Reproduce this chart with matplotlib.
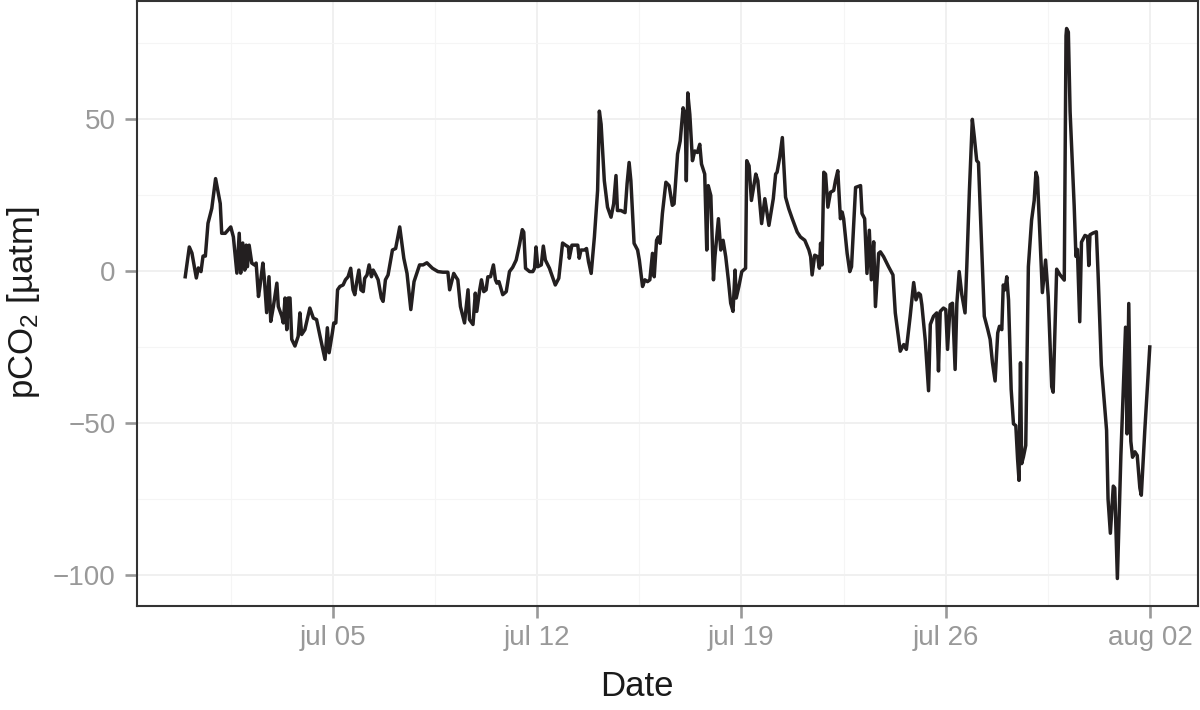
import matplotlib
matplotlib.use("Agg")
import matplotlib.pyplot as plt
import numpy as np
import pandas as pd

plt.rcParams["font.family"] = ["Liberation Sans", "DejaVu Sans"]
plt.rcParams["mathtext.fontset"] = "custom"
plt.rcParams["mathtext.rm"] = "Liberation Sans"
plt.rcParams["mathtext.it"] = "Liberation Sans:italic"

# time of each sample, in days after 1 July 00:00
days = [
    -1.06, -0.92, -0.83, -0.68, -0.61, -0.52, -0.45, -0.37, -0.28, -0.15,
    -0.02, 0.14, 0.19, 0.31, 0.50, 0.59, 0.71, 0.79, 0.84, 0.91,
    0.98, 1.03, 1.07, 1.13, 1.22, 1.31, 1.37, 1.45, 1.50, 1.60,
    1.65, 1.73, 1.81, 1.87, 1.96, 2.08, 2.13, 2.25, 2.30, 2.36,
    2.42, 2.47, 2.53, 2.59, 2.70, 2.81, 2.87, 2.93, 3.04, 3.21,
    3.33, 3.44, 3.56, 3.73, 3.81, 3.87, 3.98, 4.03, 4.10, 4.16,
    4.24, 4.35, 4.43, 4.52, 4.61, 4.69, 4.75, 4.81, 4.89, 4.96,
    5.04, 5.09, 5.17, 5.24, 5.32, 5.38, 5.47, 5.55, 5.66, 5.72,
    5.80, 5.89, 6.04, 6.15, 6.29, 6.43, 6.54, 6.67, 6.78, 6.97,
    7.09, 7.22, 7.41, 7.60, 7.77, 7.94, 8.00, 8.14, 8.21, 8.28,
    8.37, 8.51, 8.63, 8.68, 8.80, 8.88, 8.93, 9.03, 9.09, 9.17,
    9.25, 9.31, 9.40, 9.50, 9.57, 9.62, 9.69, 9.82, 9.94, 10.05,
    10.16, 10.28, 10.39, 10.49, 10.54, 10.60, 10.74, 10.85, 10.91, 10.96,
    11.02, 11.14, 11.21, 11.28, 11.42, 11.62, 11.74, 11.87, 11.97, 12.07,
    12.10, 12.19, 12.31, 12.39, 12.44, 12.50, 12.62, 12.69, 12.76, 12.85,
    12.96, 13.07, 13.13, 13.19, 13.30, 13.41, 13.53, 13.62, 13.70, 13.75,
    13.87, 14.01, 14.08, 14.15, 14.21, 14.32, 14.44, 14.50, 14.61, 14.69,
    14.78, 14.86, 14.95, 15.01, 15.09, 15.15, 15.21, 15.29, 15.41, 15.52,
    15.63, 15.69, 15.81, 15.90, 16.00, 16.07, 16.11, 16.16, 16.23, 16.32,
    16.40, 16.49, 16.57, 16.63, 16.74, 16.81, 16.86, 16.95, 17.04, 17.09,
    17.21, 17.29, 17.37, 17.46, 17.55, 17.63, 17.71, 17.78, 17.82, 17.91,
    18.01, 18.14, 18.18, 18.26, 18.34, 18.49, 18.56, 18.69, 18.80, 18.94,
    19.09, 19.17, 19.22, 19.31, 19.40, 19.51, 19.62, 19.74, 19.91, 20.02,
    20.17, 20.31, 20.37, 20.42, 20.51, 20.61, 20.67, 20.71, 20.76, 20.82,
    20.88, 20.96, 21.05, 21.16, 21.22, 21.30, 21.39, 21.45, 21.50, 21.62,
    21.71, 21.77, 21.91, 22.08, 22.13, 22.22, 22.30, 22.38, 22.45, 22.53,
    22.59, 22.70, 22.76, 22.87, 23.04, 23.19, 23.27, 23.44, 23.56, 23.65,
    23.78, 23.90, 23.98, 24.07, 24.13, 24.18, 24.30, 24.41, 24.47, 24.58,
    24.69, 24.75, 24.81, 24.92, 25.00, 25.06, 25.15, 25.23, 25.32, 25.38,
    25.46, 25.55, 25.66, 25.72, 25.81, 25.91, 25.98, 26.06, 26.12, 26.23,
    26.32, 26.44, 26.52, 26.60, 26.69, 26.78, 26.84, 26.92, 26.97, 27.03,
    27.09, 27.15, 27.24, 27.32, 27.40, 27.46, 27.51, 27.56, 27.60, 27.66,
    27.74, 27.83, 27.94, 28.03, 28.09, 28.14, 28.31, 28.42, 28.51, 28.63,
    28.68, 28.80, 28.91, 29.06, 29.12, 29.14, 29.20, 29.26, 29.40, 29.46,
    29.51, 29.59, 29.65, 29.77, 29.86, 29.90, 29.94, 30.05, 30.16, 30.22,
    30.33, 30.51, 30.56, 30.64, 30.74, 30.79, 30.88, 31.00, 31.16, 31.21,
    31.27, 31.34, 31.40, 31.48, 31.56, 31.65, 31.70, 31.82, 31.99,
]

# pCO2 anomaly [µatm]
pco2 = [
    -1.9, 7.9, 5.9, -2.3, 1.0, -0.2, 4.9, 4.9, 15.7, 20.6,
    30.4, 22.2, 12.4, 12.4, 14.5, 11.2, -0.7, 12.4, -0.7, 9.2,
    0.3, 8.5, 1.4, 8.5, 2.6, 2.0, 2.6, -8.4, -5.1, 2.6,
    -2.4, -13.7, -1.9, -16.6, -11.7, -4.0, -11.7, -14.9, -17.1, -8.9,
    -19.3, -8.9, -8.9, -22.5, -24.7, -21.5, -13.8, -20.9, -19.3, -12.2,
    -15.5, -16.0, -21.5, -29.1, -18.7, -26.9, -20.4, -17.1, -17.1, -6.2,
    -5.1, -4.6, -2.9, -1.9, 0.9, -6.2, -7.8, -4.0, 0.3, -6.2,
    -6.8, -2.4, -1.3, 2.0, -1.9, 0.3, -1.3, -2.9, -8.9, -10.0,
    -2.9, -1.3, 6.9, 7.4, 14.5, 4.2, -0.8, -12.7, -3.5, 2.0,
    2.0, 2.7, 0.9, -0.2, -0.4, -0.4, -6.2, -0.8, -1.9, -2.9,
    -11.7, -17.1, -6.2, -16.0, -17.6, -7.3, -13.3, -6.2, -2.9, -6.8,
    -6.2, -1.9, -1.9, 2.0, -2.9, -4.0, -3.5, -7.8, -6.8, -0.2,
    1.2, 3.6, 8.5, 13.6, 12.8, 0.9, -0.2, -0.2, 0.9, 7.9,
    1.4, 2.0, 8.2, 3.6, 0.9, -4.6, -2.4, 9.2, 8.5, 7.9,
    4.2, 8.5, 8.5, 8.5, 4.2, 6.9, 6.9, 7.4, 3.0, -0.8,
    11.2, 26.5, 52.6, 48.3, 29.7, 21.0, 17.7, 22.1, 31.4, 19.9,
    19.9, 19.2, 28.7, 35.7, 29.7, 9.1, 6.9, 3.6, -5.1, -2.9,
    -3.5, -2.9, 5.8, -1.9, 10.1, 11.2, 9.1, 18.9, 29.2, 28.1,
    21.6, 22.1, 38.5, 42.8, 53.7, 51.5, 29.7, 58.6, 51.5, 36.3,
    39.5, 39.0, 41.7, 35.2, 31.9, 6.9, 28.1, 24.8, -2.9, 4.7,
    17.2, 6.9, 10.1, 4.7, -2.9, -10.6, -13.3, 0.3, -8.9, -5.1,
    -0.2, 0.9, 36.3, 34.6, 23.2, 31.9, 29.7, 15.6, 23.8, 15.0,
    23.8, 31.9, 32.5, 37.4, 43.9, 24.3, 20.5, 17.2, 12.8, 11.2,
    10.1, 6.9, 4.7, -1.3, 5.2, 4.7, 0.9, 9.1, 2.0, 32.5,
    31.9, 21.0, 25.9, 26.5, 29.7, 33.0, 17.2, 19.4, 17.2, 5.8,
    -0.2, 1.4, 27.5, 28.1, 18.9, 17.2, -0.8, 13.4, -2.9, 9.6,
    -11.7, 5.8, 6.3, 4.7, 1.4, -1.3, -13.8, -26.4, -24.2, -25.8,
    -14.9, -3.8, -9.5, -7.3, -7.8, -11.1, -23.1, -39.4, -17.6, -14.9,
    -13.8, -32.9, -13.3, -12.2, -12.7, -25.8, -11.1, -10.6, -32.4, -10.6,
    -0.2, -7.8, -13.8, 1.4, 26.5, 49.9, 43.9, 36.3, 35.7, 7.9,
    -14.9, -19.3, -22.5, -30.2, -36.2, -20.4, -18.2, -19.3, -4.6, -6.2,
    -1.9, -9.5, -38.9, -50.3, -50.9, -61.8, -68.9, -30.2, -63.4, -61.2,
    -57.4, 1.4, 16.7, 23.2, 32.5, 30.8, -7.1, 3.6, -8.3, -38.1,
    -39.9, 0.6, -1.2, -3.0, 77.4, 79.8, 78.6, 52.4, 21.4, 4.8,
    7.1, -16.7, 9.5, 11.7, 11.3, 1.8, 11.9, 12.5, 12.9, -1.2,
    -31.0, -52.4, -75.0, -86.3, -70.8, -71.4, -101.2, -60.7, -18.5, -53.6,
    -10.7, -56.0, -61.3, -59.5, -60.7, -71.4, -73.8, -52.4, -25.0,
]

start = pd.Timestamp("2015-07-01")
tick_dates = ["2015-07-05", "2015-07-12", "2015-07-19", "2015-07-26", "2015-08-02"]
tick_labels = ["jul 05", "jul 12", "jul 19", "jul 26", "aug 02"]
minor_dates = ["2015-07-01 12:00", "2015-07-08 12:00", "2015-07-15 12:00",
               "2015-07-22 12:00", "2015-07-29 12:00"]
y_major = [-100, -50, 0, 50]
y_minor = [-75, -25, 25, 75]

df = pd.DataFrame({
    "time": start + pd.to_timedelta(np.array(days), unit="D"),
    "pco2": pco2,
})

fig = plt.figure(figsize=(12, 7.1), dpi=100)
ax = fig.add_axes([137 / 1200, 1 - 606 / 710, (1198 - 137) / 1200, 605 / 710])

ax.plot(df["time"], df["pco2"], color="#231f20", lw=2.5, solid_joinstyle="round")

# ggplot-style limits: data range plus 5% on each side
t0, t1 = df["time"].min(), df["time"].max()
pad = (t1 - t0) * 0.05
ax.set_xlim(t0 - pad, t1 + pad)
v0, v1 = min(pco2), max(pco2)
ax.set_ylim(v0 - 0.05 * (v1 - v0), v1 + 0.05 * (v1 - v0))

ax.set_xticks(pd.to_datetime(tick_dates))
ax.set_xticklabels(tick_labels)
ax.set_xticks(pd.to_datetime(minor_dates), minor=True)
ax.set_yticks(y_major)
ax.set_yticklabels(["\u2212100", "\u221250", "0", "50"])
ax.set_yticks(y_minor, minor=True)

ax.grid(which="major", color="#f0f0f0", lw=1.4, zorder=0)
ax.grid(which="minor", color="#f5f5f5", lw=0.8, zorder=0)
ax.set_axisbelow(True)

ax.tick_params(which="major", length=8.5, width=1.9, color="#999999",
               labelcolor="#999999", labelsize=20)
ax.tick_params(axis="x", which="major", pad=5)
ax.tick_params(axis="y", which="major", pad=7)
ax.tick_params(which="minor", length=0)

for sp in ax.spines.values():
    sp.set_color("#333333")
    sp.set_linewidth(1.5)

fig.text(637 / 1200, 1 - 686 / 710, "Date", ha="center", va="center",
         fontsize=25, color="#1a1a1a")
fig.text(24 / 1200, 1 - 303 / 710, r"pCO$_2$ [µatm]", ha="center", va="center",
         rotation=90, fontsize=25, color="#1a1a1a")

fig.savefig("out.png", dpi=100)
